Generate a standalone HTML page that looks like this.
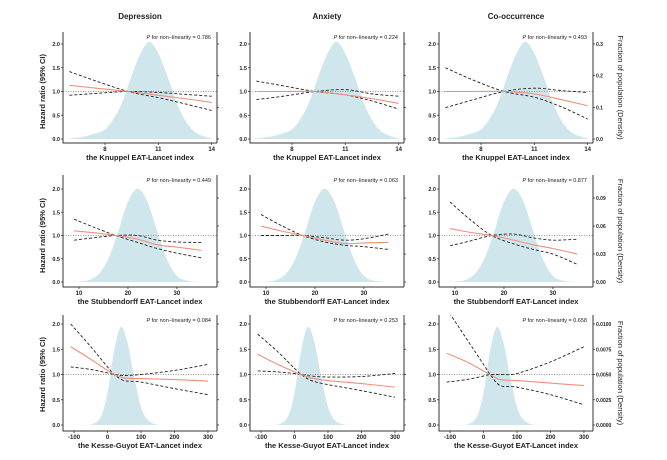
<!DOCTYPE html>
<html><head><meta charset="utf-8"><style>
html,body{margin:0;padding:0;background:#fff;width:667px;height:460px;overflow:hidden}
svg{display:block}
text{font-family:"Liberation Sans",Arial,sans-serif}
</style></head><body>
<svg id="chart" width="667" height="460" viewBox="0 0 667 460"></svg>
<script>
// ---- data ----
const outcomes = ["Depression","Anxiety","Co-occurrence"];
const indexNames = ["the Knuppel EAT-Lancet index","the Stubbendorff EAT-Lancet index","the Kesse-Guyot EAT-Lancet index"];
const pValues = [["0.786","0.224","0.493"],["0.449","0.063","0.877"],["0.084","0.253","0.658"]];
const xTicks = [[8,11,14],[10,20,30],[-100,0,100,200,300]];
const yTicks = [0,0.5,1,1.5,2];
const densTicks = [[0,0.1,0.2,0.3],[0,0.03,0.06,0.09],[0,0.0025,0.005,0.0075,0.01]];
const densTickLabels = [["0.0","0.1","0.2","0.3"],["0.00","0.03","0.06","0.09"],["0.0000","0.0025","0.0050","0.0075","0.0100"]];
const densMax = [0.3,0.0997,0.01];
// curve x values per row
const curveX = [
  [6,7.5,9.3,11,12.5,14],
  [9,13,17.5,22,26,30,35],
  [-110,-50,0,20,50,100,200,300]
];
// hazard ratio per [row][col]
const hrVals = [
  [[1.13,1.07,1.0,0.92,0.85,0.77],[1.0,1.0,1.0,0.93,0.85,0.75],[1.0,1.0,1.0,0.95,0.83,0.7]],
  [[1.1,1.06,1.0,0.92,0.8,0.75,0.68],[1.2,1.1,1.0,0.9,0.83,0.84,0.85],[1.15,1.07,1.0,0.9,0.8,0.72,0.6]],
  [[1.55,1.3,1.08,1.0,0.93,0.92,0.9,0.87],[1.4,1.2,1.05,1.0,0.93,0.88,0.82,0.75],[1.42,1.25,1.07,1.0,0.9,0.88,0.83,0.78]]
];
const ciA = [
  [[1.42,1.22,1.0,0.87,0.74,0.6],[1.22,1.12,1.0,0.93,0.8,0.63],[1.5,1.25,1.0,0.88,0.68,0.42]],
  [[1.35,1.18,1.0,0.85,0.72,0.62,0.52],[1.45,1.22,1.0,0.86,0.79,0.76,0.7],[1.72,1.35,1.0,0.82,0.7,0.6,0.38]],
  [[2.0,1.55,1.15,1.0,0.88,0.85,0.72,0.6],[1.8,1.45,1.12,1.0,0.88,0.8,0.68,0.55],[2.3,1.7,1.2,1.0,0.78,0.75,0.6,0.4]]
];
const ciB = [
  [[0.92,0.96,1.0,0.98,0.94,0.9],[0.83,0.9,1.0,1.04,0.95,0.9],[0.66,0.82,1.0,1.07,1.02,0.98]],
  [[0.9,0.95,1.0,1.0,0.9,0.86,0.85],[1.0,1.0,1.0,0.95,0.9,0.93,1.03],[0.78,0.88,1.0,1.03,0.95,0.9,0.92]],
  [[1.15,1.1,1.03,1.0,0.98,1.0,1.08,1.2],[1.07,1.05,1.02,1.0,0.97,0.95,0.96,1.02],[0.85,0.9,0.97,1.0,1.0,1.02,1.25,1.55]]
];
const densX = [
  [5.8,6.5,7,7.5,8,8.5,9,9.5,10,10.5,11,11.5,12,12.5,13,13.5,14],
  [8,10,12,14,16,18,20,22,24,26,28,30,32,35],
  [-130,-100,-50,-20,0,20,40,60,80,100,120,150,200,250,327]
];
const densY = [
  [0,0.005,0.01,0.018,0.03,0.065,0.12,0.2,0.27,0.307,0.27,0.2,0.12,0.06,0.025,0.01,0.003],
  [0,0.0004,0.002,0.0085,0.025,0.054,0.086,0.1,0.086,0.054,0.024,0.0066,0.0016,0],
  [0,0,0.00004,0.0008,0.0032,0.0074,0.0097,0.0081,0.0047,0.0018,0.0005,0.00004,0,0,0]
];
// ---- layout ----
const colL=[63,250,439], W=154;
const rowT=[32,175,315], rowB=[143,287,431], rowY0=[139,282,425], rowY2=[44,189,324];
const xDom=[[5.64,14.3],[6.73,38.2],[-133,327]];
const NS="http://www.w3.org/2000/svg";
const svg=document.getElementById('chart');
function mk(tag,attrs,parent){const e=document.createElementNS(NS,tag);for(const k in attrs)e.setAttribute(k,attrs[k]);(parent||svg).appendChild(e);return e;}
function smooth(pts){let d="M"+pts[0][0].toFixed(2)+","+pts[0][1].toFixed(2);
  for(let i=0;i<pts.length-1;i++){const p0=pts[Math.max(0,i-1)],p1=pts[i],p2=pts[i+1],p3=pts[Math.min(pts.length-1,i+2)];
    const c1=[p1[0]+(p2[0]-p0[0])/6,p1[1]+(p2[1]-p0[1])/6],c2=[p2[0]-(p3[0]-p1[0])/6,p2[1]-(p3[1]-p1[1])/6];
    d+=" C"+c1[0].toFixed(2)+","+c1[1].toFixed(2)+" "+c2[0].toFixed(2)+","+c2[1].toFixed(2)+" "+p2[0].toFixed(2)+","+p2[1].toFixed(2);}
  return d;}
const defs=mk('defs',{});
for(let r=0;r<3;r++){for(let c=0;c<3;c++){
  const L=colL[c],R=L+W,T=rowT[r],B=rowB[r],y0=rowY0[r],y2=rowY2[r];
  const xs=v=>L+(v-xDom[r][0])/(xDom[r][1]-xDom[r][0])*W;
  const ys=v=>y0-(v/2)*(y0-y2);
  const ds=v=>y0-(v/densMax[r])*(y0-y2);
  const g=mk('g',{});
  
  
  const cid='clip'+r+c;
  const cp=mk('clipPath',{id:cid},defs);mk('rect',{x:L,y:T,width:W,height:B-T},cp);
  const dp=densX[r].map((x,i)=>[xs(x),ds(densY[r][i])]);
  let d=smooth(dp)+" L"+xs(densX[r][densX[r].length-1])+","+y0+" L"+xs(densX[r][0])+","+y0+"Z";
  const area=mk('path',{d:d,fill:'#cfe6ec','clip-path':'url(#'+cid+')'},g);
  
  
  const ref=mk('line',{x1:L,x2:R,y1:ys(1),y2:ys(1),stroke:'#777','stroke-width':0.8,'stroke-dasharray':'1,1.5'},g);
  
  
  const cx=curveX[r];
  const a=mk('path',{d:smooth(cx.map((x,i)=>[xs(x),ys(ciA[r][c][i])])),fill:'none',stroke:'#222','stroke-width':0.9,'stroke-dasharray':'3,2','clip-path':'url(#'+cid+')'},g);
  
  
  const b=mk('path',{d:smooth(cx.map((x,i)=>[xs(x),ys(ciB[r][c][i])])),fill:'none',stroke:'#222','stroke-width':0.9,'stroke-dasharray':'3,2','clip-path':'url(#'+cid+')'},g);
  
  
  const h=mk('path',{d:smooth(cx.map((x,i)=>[xs(x),ys(hrVals[r][c][i])])),fill:'none',stroke:'#f0907a','stroke-width':1.1},g);
  
  
  const ax=mk('path',{d:`M${L},${T} L${L},${B} L${R},${B} M${R},${T} L${R},${B}`,fill:'none',stroke:'#333','stroke-width':1},g);
  
  
  yTicks.forEach(v=>{const y=ys(v);mk('line',{x1:L-2,x2:L,y1:y,y2:y,stroke:'#333','stroke-width':0.8},g);
    const t=mk('text',{x:L-3,y:y+2,'font-size':5.5,'font-weight':'bold','text-anchor':'end',fill:'#222'},g);t.textContent=v.toFixed(1);
    
    });
  xTicks[r].forEach(v=>{const x=xs(v);mk('line',{x1:x,x2:x,y1:B,y2:B+2,stroke:'#333','stroke-width':0.8},g);
    const t=mk('text',{x:x,y:B+8,'font-size':6,'font-weight':'bold','text-anchor':'middle',fill:'#222'},g);t.textContent=v;
    
    });
  densTicks[r].forEach((v,i)=>{const y=ds(v);mk('line',{x1:R,x2:R+2,y1:y,y2:y,stroke:'#333','stroke-width':0.8},g);
    if(c===2){const t=mk('text',{x:R+3,y:y+2,'font-size':5,'font-weight':'bold',fill:'#222'},g);t.textContent=densTickLabels[r][i];
      
      }});
  const xt=mk('text',{x:(L+R)/2,y:B+17,'font-size':7.5,'font-weight':'bold','text-anchor':'middle',fill:'#222'},g);xt.textContent=indexNames[r];
  
  
  const pt=mk('text',{x:R-6,y:T+7,'font-size':5.5,'text-anchor':'end',fill:'#222'},g);
  pt.innerHTML='<tspan font-style="italic">P</tspan> for non−linearity = '+pValues[r][c];
  
  
  if(r===0){const ct=mk('text',{x:(L+R)/2,y:19,'font-size':8,'font-weight':'bold','text-anchor':'middle',fill:'#222'},g);ct.textContent=outcomes[c];
    
    }
  if(c===0){const yc=(y0+y2)/2;const yt=mk('text',{x:0,y:0,transform:`translate(45,${yc}) rotate(-90)`,'font-size':7.5,'font-weight':'bold','text-anchor':'middle',fill:'#222'},g);yt.textContent='Hazard ratio (95% CI)';
    
    }
  if(c===2){const yc=(T+B)/2;const rt=mk('text',{x:0,y:0,transform:`translate(${R+25},${yc}) rotate(90)`,'font-size':7.5,'text-anchor':'middle',fill:'#222'},g);rt.textContent='Fraction of population (Density)';
    
    }
}}
</script>
</body></html>
